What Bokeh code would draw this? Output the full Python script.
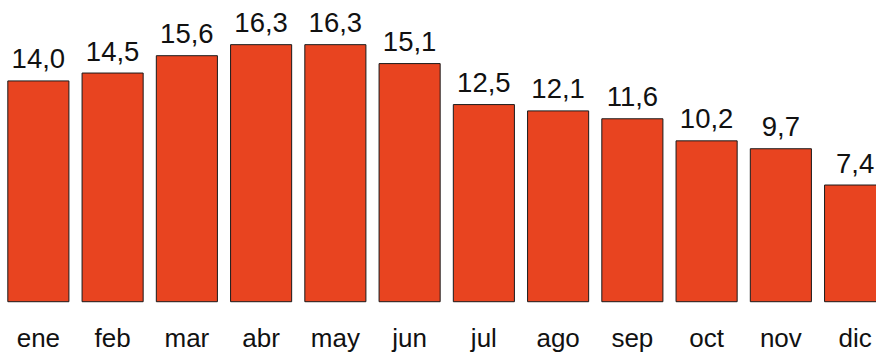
from bokeh.plotting import figure
from bokeh.models import ColumnDataSource, Range1d
from bokeh.core.properties import value
from bokeh.embed import file_html
from bokeh.resources import INLINE

months = ["ene", "feb", "mar", "abr", "may", "jun", "jul", "ago", "sep", "oct", "nov", "dic"]
values = [14.0, 14.5, 15.6, 16.3, 16.3, 15.1, 12.5, 12.1, 11.6, 10.2, 9.7, 7.4]
value_labels = [f"{v:.1f}".replace(".", ",") for v in values]

src = ColumnDataSource(dict(
    x=list(range(len(months))),
    top=values,
    month=months,
    vlabel=value_labels,
    zero=[0] * len(months),
))

p = figure(width=876, height=352, output_backend="svg", toolbar_location=None,
           x_range=Range1d(-0.51, 11.288), y_range=Range1d(-3.22, 19.1),
           min_border=0, outline_line_color=None, background_fill_color="white",
           border_fill_color="white")
p.axis.visible = False
p.grid.visible = False

p.vbar(x="x", top="top", bottom=0, width=0.823, source=src,
       fill_color="#E84420", line_color="#1a1a1a", line_width=1)

p.text(x="x", y="top", text="vlabel", source=src, y_offset=-22,
       text_align="center", text_baseline="alphabetic",
       text_font=value("Liberation Sans"), text_font_size="27.5px", text_color="#111111")

p.text(x="x", y="zero", text="month", source=src, y_offset=36,
       text_align="center", text_baseline="alphabetic",
       text_font=value("Liberation Sans"), text_font_size="26px", text_color="#111111")

open("out.html", "w").write(file_html(p, INLINE))
